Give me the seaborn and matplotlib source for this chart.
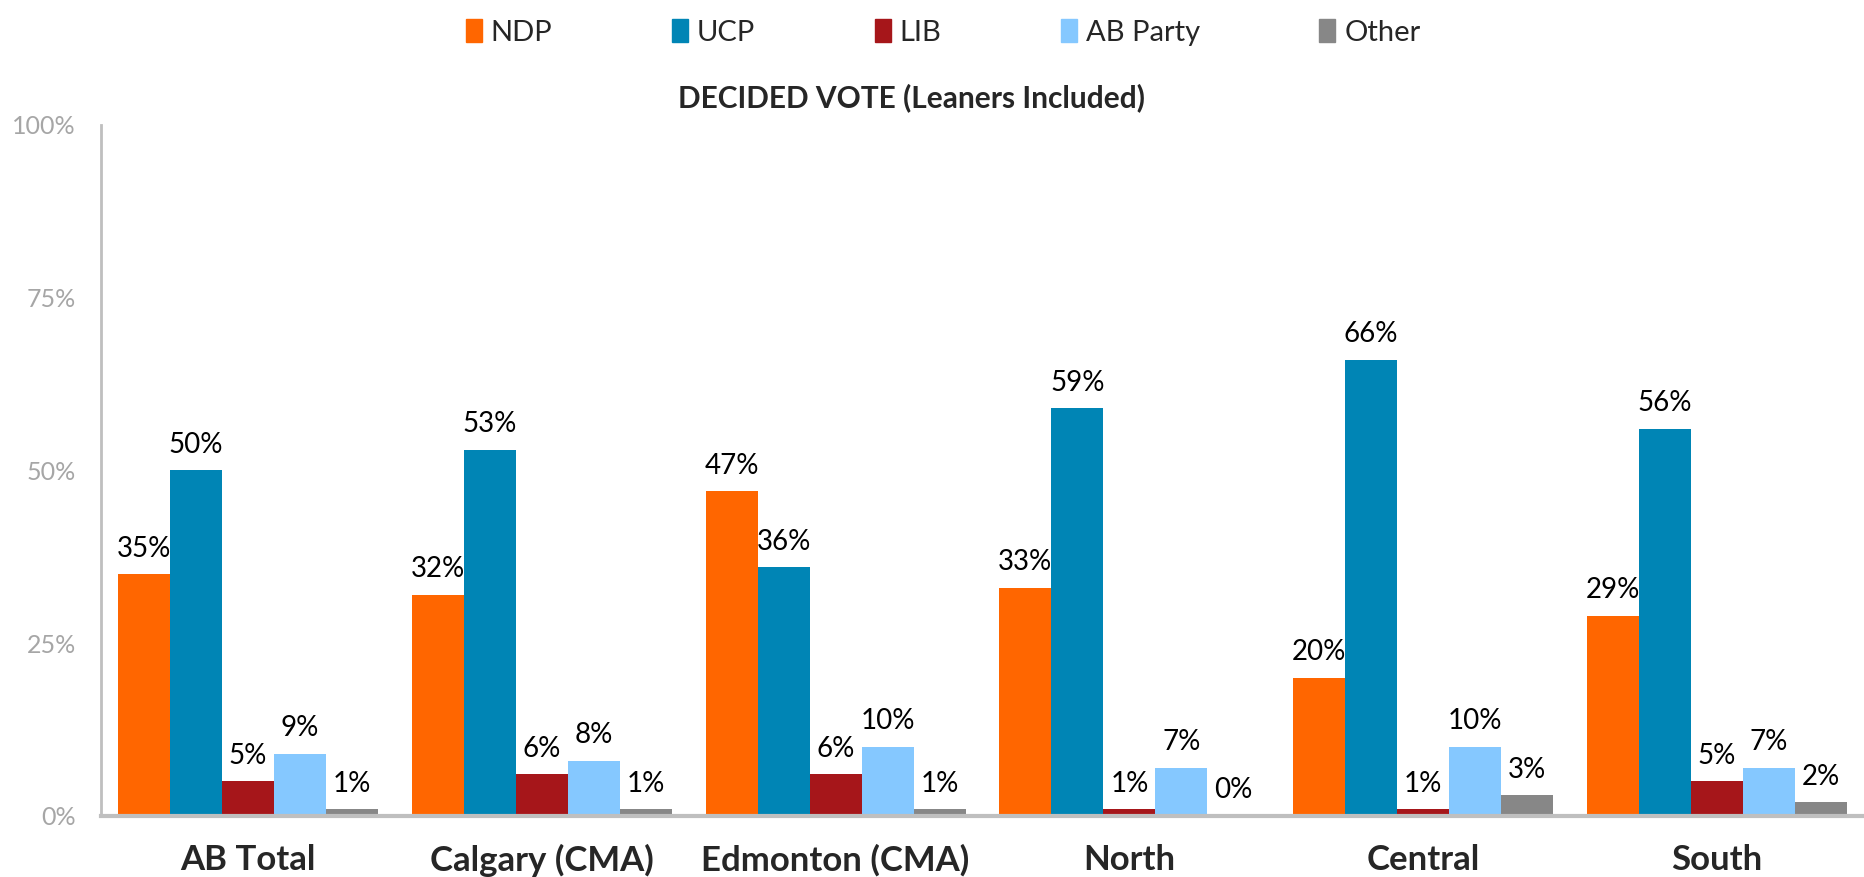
import seaborn as sns
import pandas as pd
import numpy as np
import matplotlib.pyplot as plt

regions = ["AB Total", "Calgary (CMA)", "Edmonton (CMA)", "North", "Central", "South"]
parties = ["NDP", "UCP", "LIB", "AB Party", "Other"]
ndp = [35, 32, 47, 33, 20, 29]
ucp = [50, 53, 36, 59, 66, 56]
lib = [5, 6, 6, 1, 1, 5]
ab_party = [9, 8, 10, 7, 10, 7]
other = [1, 1, 1, 0, 3, 2]
yticks = [0, 25, 50, 75, 100]

colors = ["#FF6600", "#0085B5", "#A6161A", "#85C8FF", "#878787"]

rows = []
for party, vals in zip(parties, [ndp, ucp, lib, ab_party, other]):
    for reg, v in zip(regions, vals):
        rows.append({"region": reg, "party": party, "share": v})
data = pd.DataFrame(rows)

sns.set_style("white")
plt.rcParams['font.family'] = ['Lato', 'DejaVu Sans']

fig = plt.figure(figsize=(18.64, 8.77), dpi=100)
ax = fig.add_axes([0.0542, 0.0696, 0.9458, 0.788])

sns.barplot(data=data, x="region", y="share", hue="party", order=regions,
            hue_order=parties, palette=colors, width=0.885, gap=0,
            saturation=1, linewidth=0, ax=ax, legend=False)

for cont in ax.containers:
    ax.bar_label(cont, fmt='%d%%', padding=9, fontsize=20, color='black')

ax.set_xlim(-0.5, 5.5)
ax.set_ylim(0, 100)
ax.set_yticks(yticks)
ax.set_yticklabels([f"{t}%" for t in yticks], fontsize=18, color="#A6A6A6")
ax.set_xlabel("")
ax.set_ylabel("")
for lbl in ax.get_xticklabels():
    lbl.set_fontsize(25)
    lbl.set_fontweight('bold')
ax.tick_params(axis='x', length=0, pad=20)
ax.tick_params(axis='y', length=8, width=2, color="#BFBFBF", pad=10)

for s in ["top", "right"]:
    ax.spines[s].set_visible(False)
ax.spines["left"].set_color("#BFBFBF")
ax.spines["left"].set_linewidth(2)
ax.spines["bottom"].set_color("#BFBFBF")
ax.spines["bottom"].set_linewidth(3)

fig.text(0.489, 0.889, "DECIDED VOTE (Leaners Included)", ha='center', va='center',
         fontsize=21.5, fontweight='bold')

handles = [plt.Rectangle((0, 0), 1, 1, color=c) for c in colors]
fig.legend(handles, parties, loc='upper center', bbox_to_anchor=(0.506, 1.008), ncol=5,
           frameon=False, fontsize=21, handlelength=0.55, handleheight=0.8,
           handletextpad=0.3, columnspacing=4.1)

plt.savefig("out.png", dpi=100)
